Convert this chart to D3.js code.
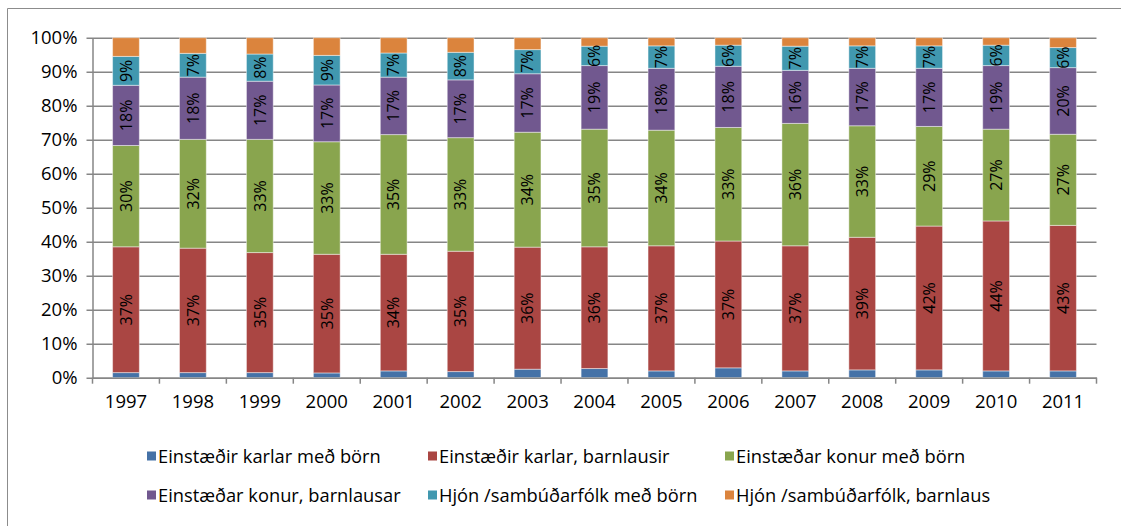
<!DOCTYPE html>
<html>
<head>
<meta charset="utf-8">
<script src="https://cdn.jsdelivr.net/npm/d3@7"></script>
<style>
  html, body { margin: 0; padding: 0; background: #fff; }
  svg { display: block; }
  text { font-family: "Open Sans", "Liberation Sans", sans-serif; fill: #000; }
</style>
</head>
<body>
<svg id="chart" width="1121" height="526"></svg>
<script>
const years = ["1997","1998","1999","2000","2001","2002","2003","2004","2005","2006","2007","2008","2009","2010","2011"];
const seriesNames = [
  "Einstæðir karlar með börn",
  "Einstæðir karlar, barnlausir",
  "Einstæðar konur með börn",
  "Einstæðar konur, barnlausar",
  "Hjón /sambúðarfólk með börn",
  "Hjón /sambúðarfólk, barnlaus"
];
const karlarMedBornum   = [1.5, 1.5, 1.5, 1.4, 2.0, 1.8, 2.5, 2.7, 2.0, 2.9, 2.0, 2.3, 2.3, 2.0, 2.0];
const karlarBarnlausir  = [37.0, 36.6, 35.3, 34.9, 34.3, 35.4, 35.9, 35.8, 36.8, 37.3, 36.8, 39.0, 42.3, 44.1, 42.8];
const konurMedBornum    = [29.8, 32.0, 33.3, 33.1, 35.2, 33.4, 33.8, 34.6, 34.0, 33.4, 36.0, 32.8, 29.3, 27.0, 26.8];
const konurBarnlausar   = [17.7, 18.3, 17.1, 16.7, 16.9, 17.0, 17.2, 18.7, 18.2, 18.0, 15.6, 16.9, 17.1, 18.7, 19.6];
const hjonMedBornum     = [8.5, 7.0, 8.0, 8.7, 7.1, 8.1, 7.1, 5.7, 6.6, 6.2, 7.1, 6.6, 6.6, 6.0, 5.9];
const hjonBarnlaus      = [5.5, 4.6, 4.8, 5.2, 4.5, 4.3, 3.5, 2.5, 2.4, 2.2, 2.5, 2.4, 2.4, 2.2, 2.9];
const yTicks = [0, 10, 20, 30, 40, 50, 60, 70, 80, 90, 100];
const labelledSeries = [1, 2, 3, 4];

const seriesValues = [karlarMedBornum, karlarBarnlausir, konurMedBornum, konurBarnlausar, hjonMedBornum, hjonBarnlaus];
const colors = ["#4572A7", "#AA4643", "#89A54E", "#71588F", "#4198AF", "#DB843D"];

const rows = years.map((y, i) => {
  const r = { year: y };
  seriesValues.forEach((s, k) => r["s" + k] = s[i] / 100);
  return r;
});
const keys = seriesValues.map((s, k) => "s" + k);
const stacked = d3.stack().keys(keys).offset(d3.stackOffsetExpand)(rows);

const svg = d3.select("#chart");
const plot = { left: 92.5, right: 1096.5, top: 37.7, bottom: 377.7 };

// outer frame
svg.append("path")
  .attr("d", `M7.5,526 L7.5,8.5 L1121,8.5`)
  .attr("fill", "none").attr("stroke", "#8c8c8c").attr("stroke-width", 1);

const x = d3.scaleBand().domain(years).range([plot.left, plot.right]).paddingInner(0.6).paddingOuter(0.3);
const y = d3.scaleLinear().domain([0, 1]).range([plot.bottom, plot.top]);

// gridlines (with left ticks)
svg.append("g")
  .attr("transform", `translate(${plot.left},0)`)
  .call(d3.axisLeft(y).tickValues(yTicks.map(v => v / 100))
        .tickSize(-(plot.right - plot.left)).tickSizeOuter(0)
        .tickFormat(d => d3.format(".0%")(d)).tickPadding(15))
  .call(g => g.select(".domain").attr("stroke", "#868686").attr("stroke-width", 1.5))
  .call(g => g.selectAll(".tick line").attr("stroke", "#868686").attr("stroke-width", 1.5).attr("x1", -6))
  .call(g => g.selectAll(".tick text").attr("font-size", 18.5).attr("font-family", "Open Sans").attr("fill", "#000"));

// bars
const layer = svg.append("g").selectAll("g").data(stacked).join("g")
  .attr("fill", (d, i) => colors[i]);
layer.selectAll("rect").data(d => d).join("rect")
  .attr("x", d => x(d.data.year))
  .attr("width", x.bandwidth())
  .attr("y", d => y(d[1]))
  .attr("height", d => y(d[0]) - y(d[1]))
  .attr("stroke", "rgba(255,255,255,0.45)")
  .attr("stroke-width", 1);

// data labels
stacked.forEach((s, k) => {
  if (!labelledSeries.includes(k)) return;
  svg.append("g").selectAll("text").data(s).join("text")
    .attr("transform", d => `translate(${x(d.data.year) + x.bandwidth() / 2},${(y(d[0]) + y(d[1])) / 2}) rotate(-90)`)
    .attr("text-anchor", "middle")
    .attr("dy", "0.36em")
    .attr("font-size", 16)
    .attr("fill", "#000")
    .text((d, i) => Math.round(seriesValues[k][i]) + "%");
});

// x axis
svg.append("g")
  .attr("transform", `translate(0,${plot.bottom})`)
  .call(d3.axisBottom(x).tickSize(0).tickPadding(17))
  .call(g => g.select(".domain").attr("stroke", "#868686").attr("stroke-width", 1.5))
  .call(g => g.selectAll(".tick text").attr("font-size", 18.5).attr("font-family", "Open Sans").attr("fill", "#000"));
// x tick marks between categories
const bounds = d3.range(years.length + 1).map(i => plot.left + (plot.right - plot.left) * i / years.length);
svg.append("g").selectAll("line").data(bounds).join("line")
  .attr("x1", d => d).attr("x2", d => d)
  .attr("y1", plot.bottom).attr("y2", plot.bottom + 6)
  .attr("stroke", "#868686").attr("stroke-width", 1.5);

// legend
const legendPos = [
  { x: 147, y: 456 }, { x: 428, y: 456 }, { x: 725, y: 456 },
  { x: 147, y: 495 }, { x: 428, y: 495 }, { x: 725, y: 495 }
];
const lg = svg.append("g").selectAll("g").data(seriesNames).join("g")
  .attr("transform", (d, i) => `translate(${legendPos[i].x},${legendPos[i].y})`);
lg.append("rect").attr("x", 0).attr("y", -4.5).attr("width", 9).attr("height", 9)
  .attr("fill", (d, i) => colors[i]);
lg.append("text").attr("x", 11).attr("dy", "0.36em").attr("font-size", 18.3).text(d => d);
</script>
</body>
</html>
